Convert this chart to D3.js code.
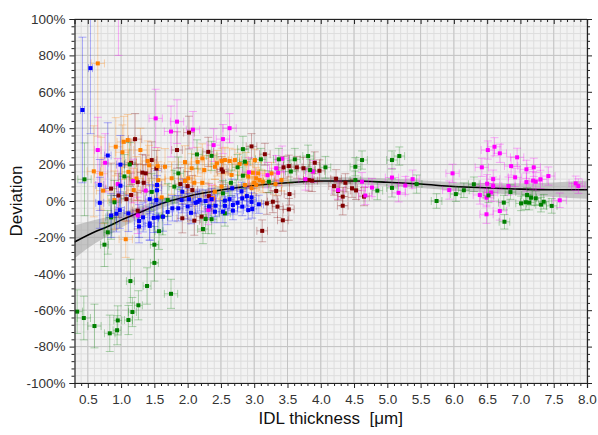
<!DOCTYPE html>
<html>
<head>
<meta charset="utf-8">
<script src="https://cdn.jsdelivr.net/npm/d3@7"></script>
<style>
  body { margin: 0; background: #fff; }
  svg text { font-family: "Liberation Sans", Arial, sans-serif; }
</style>
</head>
<body>
<div id="chart"></div>
<script>
// each point: [thickness, deviation %, x error, y error]
const blue = [
  [0.42,50,0.03,40],[0.54,73,0.03,36],[0.80,25,0.05,18],[0.99,20,0.06,16],
  [0.68,8.8,0.06,14],[0.68,-1,0.06,14],[0.99,8.4,0.06,12],[0.85,-8,0.06,12],
  [0.93,-7,0.07,10],[0.98,-5,0.07,10],[1.11,-6.8,0.07,10],[1.27,-11,0.07,9],
  [1.27,-14,0.07,9],[1.43,-12.3,0.07,9],[1.43,-13.7,0.07,8],[1.49,-9.3,0.07,8],
  [1.55,-9,0.07,8],[1.63,-8.6,0.07,8],[1.33,-9,0.07,8],[1.43,1,0.07,8],
  [1.53,0.5,0.07,8],[1.54,5.9,0.07,8],[1.54,8.8,0.07,8],[1.77,-4,0.07,7],
  [1.86,-4,0.07,7],[1.91,0.5,0.07,7],[1.92,5.1,0.07,7],[2.0,-3,0.07,7],
  [2.02,1,0.07,6],[2.12,-1,0.07,6],[2.15,-0.5,0.07,6],[2.18,0.5,0.07,6],
  [2.27,0,0.07,6],[2.32,-3,0.07,6],[2.36,1,0.07,6],[2.42,-2.6,0.07,6],
  [2.41,-5.9,0.07,6],[2.53,-5.9,0.07,6],[2.56,0.2,0.07,5],[2.56,-2.7,0.07,5],
  [2.63,1,0.07,5],[2.67,7,0.07,5],[2.68,-2.2,0.07,5],[2.68,-5.3,0.07,5],
  [2.81,5.3,0.07,5],[2.82,1.5,0.07,5],[2.82,-3.1,0.07,5],[2.89,2.7,0.07,5],
  [2.91,-5,0.07,5],[2.96,2,0.07,5],[2.96,-0.5,0.07,5],[2.97,-4.4,0.07,5],
  [3.07,-1.8,0.07,5],[1.70,-6,0.07,7],[2.05,-6.5,0.07,6],[2.75,-1,0.07,5]
];
const orange = [
  [0.65,75.6,0.1,40],[0.59,16.3,0.1,25],[0.70,15,0.1,20],[0.73,5.7,0.1,18],
  [0.90,0.5,0.1,16],[0.92,29.8,0.1,16],[1.02,26.8,0.1,15],[1.04,32.5,0.1,14],
  [1.10,33.5,0.1,14],[1.11,16,0.1,12],[1.19,6,0.1,12],[1.23,12.4,0.1,12],
  [1.29,28,0.1,12],[1.40,22,0.1,11],[1.42,19.6,0.1,11],[1.55,19.2,0.1,10],
  [1.56,11.5,0.1,10],[1.61,2,0.1,10],[1.66,18.8,0.1,10],[1.76,12.5,0.1,9],
  [1.96,21.4,0.1,9],[1.96,11,0.1,9],[2.06,18,0.1,8],[2.10,10,0.1,8],
  [2.15,21.5,0.1,8],[2.22,23.4,0.1,8],[2.25,17,0.1,8],[2.38,1.5,0.1,7],
  [2.41,5.1,0.1,7],[2.41,18.8,0.1,7],[2.44,20.7,0.1,7],[2.51,7.9,0.1,7],
  [2.51,22,0.1,7],[2.56,22.5,0.1,7],[2.63,22,0.1,7],[2.66,14.3,0.1,7],
  [2.71,22.5,0.1,6],[2.78,20.3,0.1,6],[2.86,8.8,0.1,6],[2.88,20.7,0.1,6],
  [2.91,13.4,0.1,6],[2.96,7,0.1,6],[2.98,15.5,0.1,6],[3.03,12.5,0.1,6],
  [3.03,8.8,0.1,6],[3.06,15.2,0.1,6],[3.13,10.6,0.1,6],[3.26,15.2,0.1,6],
  [3.32,9.3,0.1,6],[1.07,-21,0.1,10],[3.0,10,0.1,6],[3.08,11.5,0.1,6],
  [2.01,12.5,0.1,8],[2.22,10,0.1,8],[3.01,22.5,0.1,6],[3.41,11.5,0.1,6]
];
const magenta = [
  [0.96,118,0.05,38],[0.65,28,0.05,18],[0.76,21,0.05,16],[0.95,9.3,0.06,14],
  [1.18,11,0.06,12],[1.25,-7.9,0.06,10],[1.37,5.7,0.06,10],[1.52,45.4,0.1,16],
  [1.75,38.2,0.1,14],[1.84,43.6,0.1,12],[2.08,39.2,0.1,10],[2.31,-5,0.06,8],
  [2.36,0.9,0.06,8],[2.39,30.7,0.1,9],[2.53,34,0.1,8],[2.63,40,0.1,8],
  [2.92,15.8,0.1,8],[3.20,14.2,0.1,7],[3.33,18,0.1,7],[3.36,15.5,0.1,7],
  [3.42,23.2,0.1,7],[3.77,12,0.1,6],[3.88,16.2,0.1,6],[4.26,6,0.1,5],
  [4.62,10.6,0.1,5],[4.67,3,0.1,5],[4.77,7.4,0.1,5],[5.07,12.9,0.1,5],
  [5.17,4.5,0.1,5],[5.27,8.5,0.1,5],[5.38,12,0.1,5],[5.93,6,0.1,5],
  [5.98,15.2,0.1,5],[6.39,3.3,0.1,5],[6.42,18.5,0.1,5],[6.49,1.8,0.1,5],
  [6.49,-7.3,0.1,5],[6.50,9.5,0.1,5],[6.51,28,0.1,5],[6.56,4.7,0.1,5],
  [6.59,12,0.1,5],[6.59,8.2,0.1,5],[6.61,29.8,0.1,5],[6.69,26.2,0.1,5],
  [6.69,-5.5,0.1,5],[6.82,8.2,0.1,5],[6.86,19.2,0.1,5],[6.92,13,0.1,5],
  [6.95,24,0.1,5],[7.09,17.4,0.1,5],[7.09,10.4,0.1,5],[7.19,11.2,0.1,5],
  [7.20,18.5,0.1,5],[7.23,10.6,0.1,5],[7.30,11.9,0.1,5],[7.42,13.7,0.1,5],
  [7.59,0.4,0.1,4],[7.83,9.7,0.1,4],[7.87,8.2,0.1,4]
];
const green = [
  [0.34,-60.8,0.08,12],[0.44,-64.3,0.1,12],[0.60,-68.7,0.1,12],[0.83,-72.7,0.08,10],
  [0.94,-71,0.06,8],[0.95,-65.6,0.06,8],[1.11,-65.4,0.06,8],[1.17,-61,0.06,8],
  [1.26,-57.3,0.06,8],[1.14,-44,0.06,12],[1.39,-46.7,0.06,10],[1.50,-34,0.06,10],
  [1.75,-51,0.1,8],[1.50,-24,0.06,10],[1.57,-16.6,0.06,10],[0.75,-24,0.06,12],
  [0.80,-17.2,0.06,12],[0.45,11.9,0.1,20],[0.85,-9,0.08,12],[0.90,-0.7,0.08,12],
  [1.05,13.5,0.08,12],[1.13,20.1,0.08,12],[1.46,5,0.08,10],[1.62,-8.6,0.08,10],
  [1.70,0.5,0.08,9],[1.80,7.9,0.08,9],[1.86,15.2,0.08,9],[2.14,25.6,0.08,8],
  [2.27,-9.9,0.08,8],[2.23,-15.4,0.08,8],[2.36,24.8,0.08,8],[2.36,-10,0.08,8],
  [2.53,4.2,0.08,7],[2.56,-6.8,0.08,7],[2.65,10,0.08,7],[2.75,18.5,0.08,7],
  [2.83,28.5,0.08,7],[2.83,13.9,0.08,7],[2.86,21.6,0.08,7],[3.10,22.9,0.08,6],
  [3.22,10.6,0.08,6],[3.37,22.9,0.08,6],[3.55,16.2,0.08,6],[3.61,22.9,0.08,6],
  [3.81,24.7,0.08,6],[3.84,17,0.08,6],[4.07,18.5,0.08,6],[4.52,18.8,0.08,5],
  [4.52,11.5,0.08,5],[4.62,22.5,0.08,5],[4.85,5.7,0.08,5],[5.07,22.5,0.08,5],
  [5.07,7.2,0.08,5],[5.18,24.7,0.08,5],[5.44,9.3,0.08,5],[5.74,0,0.08,4],
  [6.03,3.8,0.08,4],[6.15,5.9,0.08,4],[6.30,9.2,0.08,4],[6.52,3.1,0.08,4],
  [6.75,-0.9,0.08,4],[6.76,-11.4,0.08,4],[6.85,4.9,0.08,4],[7.01,-1.3,0.08,4],
  [7.08,-0.7,0.08,4],[7.10,3.3,0.08,4],[7.13,-0.9,0.08,4],[7.16,1.8,0.08,4],
  [7.23,1.5,0.08,4],[7.31,-2,0.08,4],[7.35,-0.4,0.08,4],[7.47,-2.7,0.08,4]
];
const darkred = [
  [1.21,34,0.1,14],[1.15,21,0.08,12],[0.85,6.8,0.08,14],[0.96,3,0.08,12],
  [1.08,1,0.08,12],[1.15,3.3,0.08,12],[1.25,10.4,0.08,10],[1.25,-5.3,0.08,10],
  [1.32,15.6,0.08,10],[1.34,10,0.08,10],[1.37,15.2,0.08,10],[1.46,22.5,0.08,10],
  [1.53,17.8,0.08,10],[1.84,28,0.08,10],[1.89,9.3,0.08,9],[1.92,-9.5,0.08,8],
  [2.0,8.2,0.08,8],[2.02,37.6,0.08,9],[2.07,6,0.08,8],[2.10,-10.8,0.08,8],
  [2.21,-8.6,0.08,8],[2.31,27,0.08,8],[2.32,2.7,0.08,7],[2.51,17.4,0.08,7],
  [2.53,16.1,0.08,7],[2.96,30,0.08,7],[3.12,-16.4,0.08,6],[3.16,25.7,0.08,6],
  [3.19,-1.3,0.08,6],[3.28,-0.4,0.08,6],[3.33,5.5,0.08,6],[3.35,-3.1,0.08,6],
  [3.43,-10.6,0.08,6],[3.44,18.5,0.08,6],[3.52,19.2,0.08,6],[3.52,-4.6,0.08,6],
  [3.53,3.8,0.08,6],[3.64,18.5,0.08,6],[3.74,18,0.08,6],[3.82,11.5,0.08,6],
  [3.87,11.2,0.08,6],[3.91,21,0.08,6],[3.98,16.6,0.08,6],[4.20,8.2,0.08,5],
  [4.23,12.2,0.08,5],[4.26,5.5,0.08,5],[4.33,2.4,0.08,5],[4.33,-2.6,0.08,5],
  [4.37,10,0.08,5],[4.47,7,0.08,5],[4.53,5.8,0.08,5],[4.65,2.4,0.08,5]
];
// fitted trend and its confidence half-width
const fitX    = [0.3, 0.6, 0.8, 1.0, 1.3, 1.6, 2.0, 2.5, 3.0, 3.5, 4.0, 4.5, 5.0, 5.5, 6.0, 6.5, 7.0, 7.5, 8.0];
const fitY    = [-22.5, -17, -14, -10.5, -6, -1.5, 2.5, 6, 8.5, 10, 11, 11, 10.3, 9.3, 8, 7.2, 6.5, 6.2, 6.2];
const fitBand = [9, 6.5, 5.2, 4.2, 3.2, 2.6, 2.1, 1.9, 1.8, 1.8, 2, 2, 2, 2.1, 2.3, 2.7, 3.2, 4, 5];

const xMajor = [0.5,1.0,1.5,2.0,2.5,3.0,3.5,4.0,4.5,5.0,5.5,6.0,6.5,7.0,7.5,8.0];
const yMajor = [-100,-80,-60,-40,-20,0,20,40,60,80,100];

const series = [
  {data: darkred, color: "#800000"},
  {data: orange, color: "#ff8000"},
  {data: magenta, color: "#ff00ff"},
  {data: green, color: "#008000"},
  {data: blue, color: "#0000ff"}
];

const width = 598, height = 435;
const margin = {left: 74.5, right: 11, top: 19, bottom: 52};

const svg = d3.select("#chart").append("svg")
  .attr("width", width).attr("height", height);

const x = d3.scaleLinear().domain([0.3, 8.0]).range([margin.left, width - margin.right]);
const y = d3.scaleLinear().domain([-100, 100]).range([height - margin.bottom, margin.top]);

const [x0, x1] = x.range();
const [y1, y0] = y.range();

svg.append("clipPath").attr("id", "clip")
  .append("rect").attr("x", x0).attr("y", y0).attr("width", x1 - x0).attr("height", y1 - y0);

svg.append("rect").attr("x", x0).attr("y", y0).attr("width", x1 - x0).attr("height", y1 - y0)
  .attr("fill", "#f2f2f2");

// grid
const xMinor = d3.range(4, 80).map(d => d / 10);
const yMinor = d3.range(-100, 101, 4);
const grid = svg.append("g");
grid.selectAll(".xm").data(xMinor).enter().append("line")
  .attr("x1", d => x(d)).attr("x2", d => x(d)).attr("y1", y0).attr("y2", y1)
  .attr("stroke", "#dddddd").attr("stroke-width", 1);
grid.selectAll(".ym").data(yMinor).enter().append("line")
  .attr("y1", d => y(d)).attr("y2", d => y(d)).attr("x1", x0).attr("x2", x1)
  .attr("stroke", "#dddddd").attr("stroke-width", 1);
grid.selectAll(".xM").data(xMajor).enter().append("line")
  .attr("x1", d => x(d)).attr("x2", d => x(d)).attr("y1", y0).attr("y2", y1)
  .attr("stroke", "#c4c4c4").attr("stroke-width", 1);
grid.selectAll(".yM").data(yMajor).enter().append("line")
  .attr("y1", d => y(d)).attr("y2", d => y(d)).attr("x1", x0).attr("x2", x1)
  .attr("stroke", "#c4c4c4").attr("stroke-width", 1);

const plot = svg.append("g").attr("clip-path", "url(#clip)");

// confidence band + fit
const fit = fitX.map((d, i) => ({x: d, y: fitY[i], b: fitBand[i]}));
plot.append("path").datum(fit)
  .attr("d", d3.area().curve(d3.curveMonotoneX)
    .x(d => x(d.x)).y0(d => y(d.y - d.b)).y1(d => y(d.y + d.b)))
  .attr("fill", "#a6a6a6").attr("fill-opacity", 0.6);
plot.append("path").datum(fit)
  .attr("d", d3.line().curve(d3.curveMonotoneX).x(d => x(d.x)).y(d => y(d.y)))
  .attr("fill", "none").attr("stroke", "#000").attr("stroke-width", 1.6);

// error bars
const cap = 4;
series.forEach(s => {
  const g = plot.append("g").attr("stroke", s.color).attr("stroke-opacity", 0.3).attr("stroke-width", 1);
  s.data.forEach(d => {
    const px = x(d[0]), py = y(d[1]);
    const ya = y(d[1] + d[3]), yb = y(d[1] - d[3]);
    const xa = x(d[0] - d[2]), xb = x(d[0] + d[2]);
    g.append("line").attr("x1", px).attr("x2", px).attr("y1", ya).attr("y2", yb);
    g.append("line").attr("x1", px - cap).attr("x2", px + cap).attr("y1", ya).attr("y2", ya);
    g.append("line").attr("x1", px - cap).attr("x2", px + cap).attr("y1", yb).attr("y2", yb);
    g.append("line").attr("x1", xa).attr("x2", xb).attr("y1", py).attr("y2", py);
    g.append("line").attr("x1", xa).attr("x2", xa).attr("y1", py - cap).attr("y2", py + cap);
    g.append("line").attr("x1", xb).attr("x2", xb).attr("y1", py - cap).attr("y2", py + cap);
  });
});

// points
series.forEach(s => {
  plot.append("g").selectAll("rect").data(s.data).enter().append("rect")
    .attr("x", d => x(d[0]) - 2).attr("y", d => y(d[1]) - 2)
    .attr("width", 4).attr("height", 4)
    .attr("fill", s.color);
});

// axes
const fmtPct = d => d + "%";
const halfStep = d => Math.abs(d * 2 - Math.round(d * 2)) > 1e-6;
svg.append("g").attr("transform", `translate(0,${y1})`)
  .call(d3.axisBottom(x).tickValues(xMajor).tickFormat(d3.format(".1f")).tickSize(5).tickPadding(6));
svg.append("g").attr("transform", `translate(0,${y1})`)
  .call(d3.axisBottom(x).tickValues(xMinor.filter(halfStep)).tickFormat("").tickSize(3))
  .select(".domain").remove();
svg.append("g").attr("transform", `translate(${x0},0)`)
  .call(d3.axisLeft(y).tickValues(yMajor).tickFormat(fmtPct).tickSize(5).tickPadding(4));
svg.append("g").attr("transform", `translate(${x0},0)`)
  .call(d3.axisLeft(y).tickValues(yMinor.filter(d => d % 20 !== 0)).tickFormat("").tickSize(3))
  .select(".domain").remove();
svg.append("g").attr("transform", `translate(${x1},0)`)
  .call(d3.axisRight(y).tickValues(yMajor).tickFormat("").tickSize(5));
svg.append("g").attr("transform", `translate(${x1},0)`)
  .call(d3.axisRight(y).tickValues(yMinor.filter(d => d % 20 !== 0)).tickFormat("").tickSize(3))
  .select(".domain").remove();
svg.append("g").attr("transform", `translate(0,${y0})`)
  .call(d3.axisBottom(x).tickValues(xMajor).tickFormat("").tickSize(5));
svg.append("g").attr("transform", `translate(0,${y0})`)
  .call(d3.axisBottom(x).tickValues(xMinor.filter(halfStep)).tickFormat("").tickSize(3))
  .select(".domain").remove();

svg.selectAll(".domain").attr("stroke", "#222").attr("stroke-width", 1.2);
svg.selectAll(".tick line").attr("stroke", "#222");
svg.selectAll(".tick text").attr("font-size", 13.5).attr("fill", "#333");

svg.append("text")
  .attr("transform", `translate(18,${(y0 + y1) / 2}) rotate(-90)`)
  .attr("text-anchor", "middle").attr("dominant-baseline", "middle")
  .attr("font-size", 17).attr("fill", "#111")
  .text("Deviation");
svg.append("text")
  .attr("x", (x0 + x1) / 2).attr("y", 424)
  .attr("text-anchor", "middle").attr("font-size", 17).attr("fill", "#111")
  .style("white-space", "pre")
  .text("IDL thickness  [μm]");
</script>
</body>
</html>
